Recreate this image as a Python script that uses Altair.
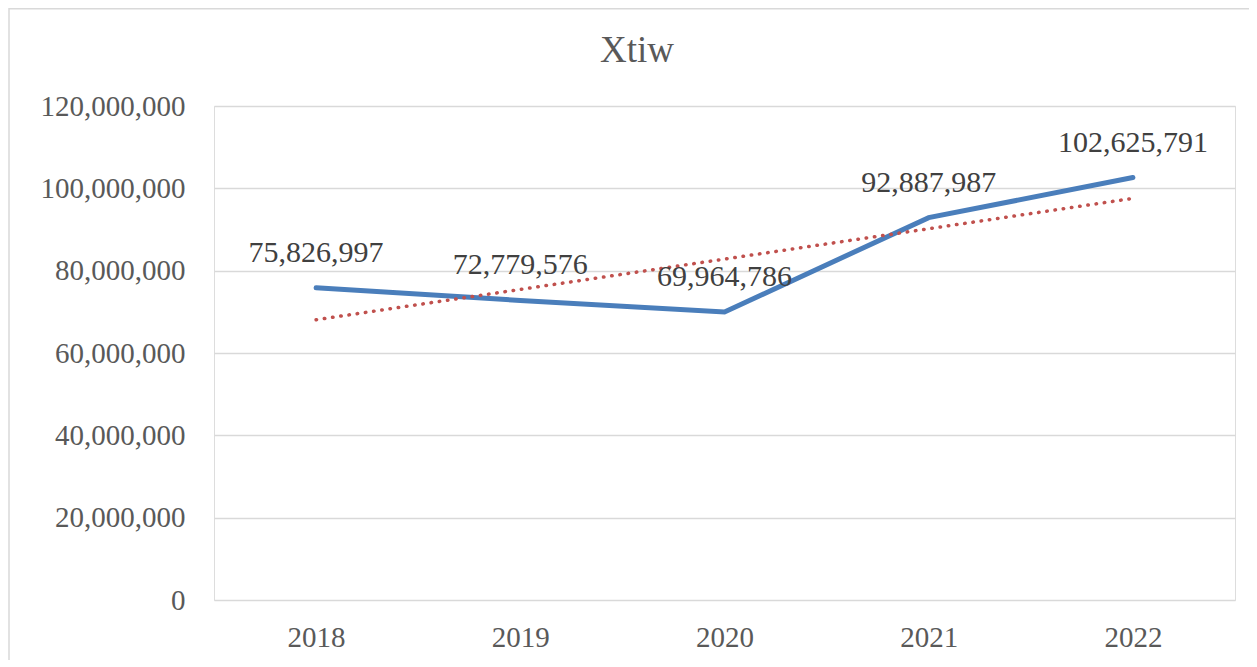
import altair as alt
import pandas as pd

years = [2018, 2019, 2020, 2021, 2022]
values = [75826997, 72779576, 69964786, 92887987, 102625791]
labels = ["75,826,997", "72,779,576", "69,964,786", "92,887,987", "102,625,791"]
title_text = "Xtiw"

df = pd.DataFrame({"Year": years, "Value": values, "Label": labels})

FONT = "Liberation Serif"
W, H = 1021, 494
PAD_L, PAD_T = 206, 98

x = alt.X("Year:Q", scale=alt.Scale(domain=[2017.5, 2022.5], nice=False, zero=False),
          axis=alt.Axis(values=years, format="d", title=None, grid=False, domain=False,
                        ticks=False, labelFontSize=29, labelFont=FONT, labelColor="#595959",
                        labelPadding=23))
y = alt.Y("Value:Q", scale=alt.Scale(domain=[0, 120000000], nice=False),
          axis=alt.Axis(values=list(range(0, 120000001, 20000000)), format=",d", title=None,
                        domain=False, ticks=False, gridColor="#D9D9D9", gridWidth=1.3,
                        labelFontSize=29, labelFont=FONT, labelColor="#595959",
                        labelPadding=29))

base = alt.Chart(df)

frame = base.mark_rect(fill=None, stroke="#D9D9D9", strokeWidth=1.5).encode(
    x=alt.value(1 - PAD_L), x2=alt.value(1244 - PAD_L),
    y=alt.value(0.8 - PAD_T), y2=alt.value(700 - PAD_T)
).transform_filter("datum.Year == 2018")

title = base.mark_text(font=FONT, fontSize=37, color="#595959", baseline="alphabetic",
                       align="center").encode(
    x=alt.value(637 - 8 - PAD_L), y=alt.value(62 - 8 - PAD_T), text=alt.value(title_text)
).transform_filter("datum.Year == 2018")

line = base.mark_line(color="#4A7EBB", strokeWidth=5, strokeCap="round", strokeJoin="miter").encode(x=x, y=y)

trend = base.transform_regression("Year", "Value", method="linear").mark_line(
    color="#C0504D", strokeWidth=3.5, strokeDash=[0.5, 7.8], strokeCap="round"
).encode(x=x, y=y)

text = base.mark_text(font=FONT, fontSize=30, color="#404040", baseline="alphabetic", dy=-26).encode(
    x=x, y=y, text="Label:N")

chart = alt.layer(frame, line, trend, text, title).properties(
    width=W, height=H,
    autosize=alt.AutoSizeParams(type="none"),
    padding={"left": PAD_L, "top": PAD_T, "right": 14, "bottom": 60},
).configure_view(stroke=None).configure(background="white")

chart.save("out.html", embed_options={"renderer": "svg", "actions": False})
